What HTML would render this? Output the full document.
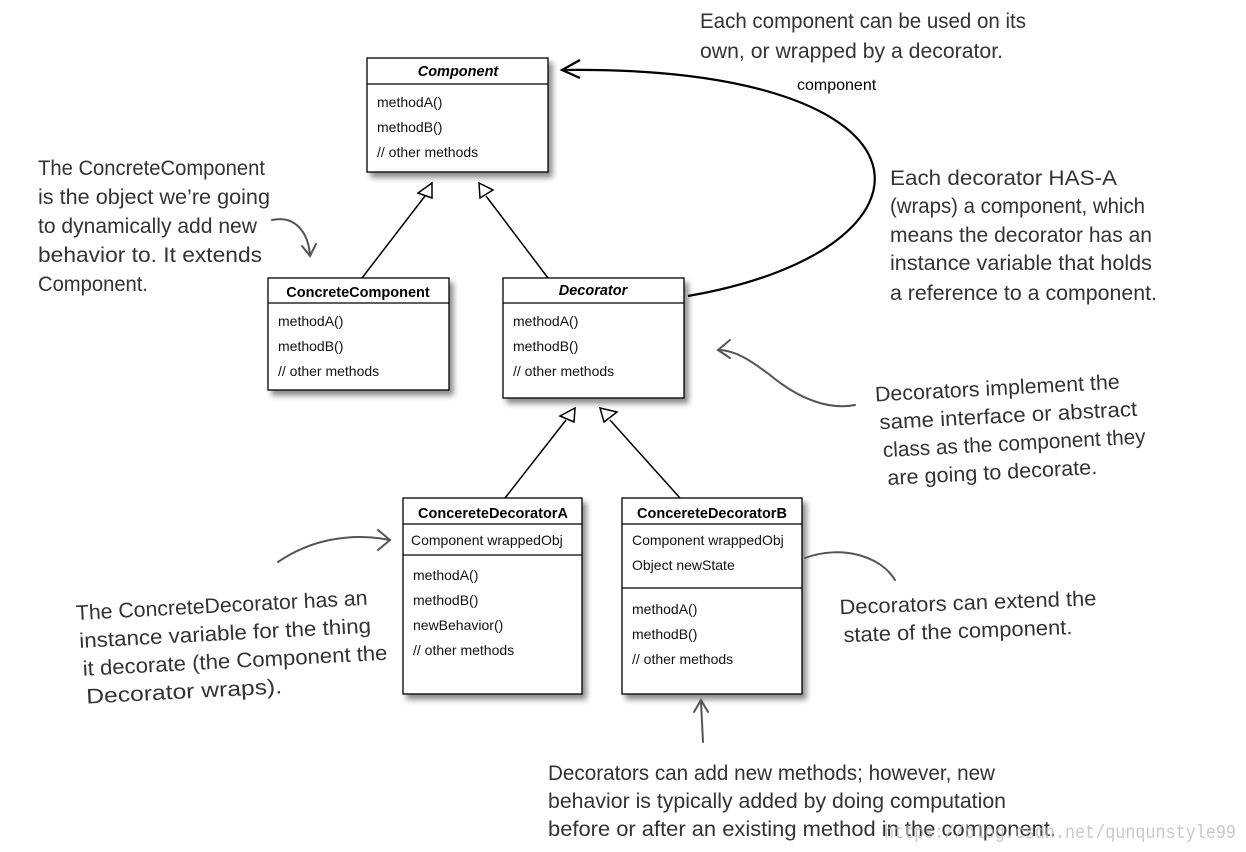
<!DOCTYPE html>
<html><head><meta charset="utf-8"><style>
html,body{margin:0;padding:0;background:#fff}
svg{display:block}
.h{font-family:"Liberation Sans Narrow","Liberation Sans",sans-serif;font-size:21px;fill:#333}
.b{font-family:"Liberation Sans",sans-serif;font-size:14px;fill:#111}
.t{font-family:"Liberation Sans",sans-serif;font-size:14.5px;font-weight:bold;fill:#000}
.box{fill:#fff;stroke:#000;stroke-width:1.3}
</style></head><body>
<svg width="1246" height="852" viewBox="0 0 1246 852" xmlns="http://www.w3.org/2000/svg">
<defs>
<filter id="sh" x="-10%" y="-10%" width="130%" height="130%"><feDropShadow dx="4" dy="5" stdDeviation="3" flood-color="#000" flood-opacity="0.45"/></filter>
</defs>
<g filter="url(#sh)">
<rect class="box" x="367" y="58" width="181" height="114"/>
<rect class="box" x="268" y="278" width="181" height="112"/>
<rect class="box" x="503" y="278" width="181" height="120"/>
<rect class="box" x="403" y="498" width="179" height="196"/>
<rect class="box" x="622" y="498" width="180" height="196"/>
</g>
<g stroke="#000" stroke-width="1.2">
<line x1="367" y1="84" x2="548" y2="84"/>
<line x1="268" y1="303" x2="449" y2="303"/>
<line x1="503" y1="303" x2="684" y2="303"/>
<line x1="403" y1="524" x2="582" y2="524"/>
<line x1="403" y1="555" x2="582" y2="555"/>
<line x1="622" y1="524" x2="802" y2="524"/>
<line x1="622" y1="588" x2="802" y2="588"/>
</g>
<text class="t" x="458" y="76" text-anchor="middle" font-style="italic">Component</text>
<text class="b" x="377" y="107">methodA()</text>
<text class="b" x="377" y="132">methodB()</text>
<text class="b" x="377" y="157">// other methods</text>
<text class="t" x="358" y="297" text-anchor="middle">ConcreteComponent</text>
<text class="b" x="278" y="326">methodA()</text>
<text class="b" x="278" y="351">methodB()</text>
<text class="b" x="278" y="376">// other methods</text>
<text class="t" x="593" y="295" text-anchor="middle" font-style="italic">Decorator</text>
<text class="b" x="513" y="326">methodA()</text>
<text class="b" x="513" y="351">methodB()</text>
<text class="b" x="513" y="376">// other methods</text>
<text class="t" x="493" y="518" text-anchor="middle">ConcereteDecoratorA</text>
<text class="b" x="411" y="545">Component wrappedObj</text>
<text class="b" x="413" y="580">methodA()</text>
<text class="b" x="413" y="605">methodB()</text>
<text class="b" x="413" y="630">newBehavior()</text>
<text class="b" x="413" y="655">// other methods</text>
<text class="t" x="712" y="518" text-anchor="middle">ConcereteDecoratorB</text>
<text class="b" x="632" y="545">Component wrappedObj</text>
<text class="b" x="632" y="570">Object newState</text>
<text class="b" x="632" y="614">methodA()</text>
<text class="b" x="632" y="639">methodB()</text>
<text class="b" x="632" y="664">// other methods</text>
<g stroke="#000" stroke-width="1.5" fill="#fff">
<line x1="362" y1="278" x2="425" y2="196"/>
<polygon points="432,183 418,193 432,198"/>
<line x1="548" y1="278" x2="486" y2="196"/>
<polygon points="479,183 493,190 480,198"/>
<line x1="505" y1="498" x2="566" y2="420"/>
<polygon points="575,408 560,416 574,422"/>
<line x1="680" y1="498" x2="610" y2="420"/>
<polygon points="600,408 617,412 604,422"/>
</g>
<path d="M688,296 C 955,250 955,65 562,70" fill="none" stroke="#000" stroke-width="2.2"/>
<path d="M580,60 L562,70 L580,78" fill="none" stroke="#000" stroke-width="2.2"/>
<text x="797" y="90" font-family="Liberation Sans,sans-serif" font-size="16" fill="#000">component</text>
<g fill="none" stroke="#555" stroke-width="2" stroke-linecap="round">
<path d="M272,220 C295,215 308,232 310,255"/><path d="M302,246 L310,256 L316,244"/>
<path d="M855,405 C830,410 800,400 770,375 C750,360 735,350 718,350"/><path d="M730,340 L718,350 L730,358"/>
<path d="M278,562 C310,540 350,532 390,540"/><path d="M378,530 L390,540 L378,550"/>
<path d="M805,558 C840,545 880,555 895,580"/>
<path d="M703,742 L701,702"/><path d="M694,712 L701,700 L708,712"/>
</g>
<g class="h">
<text x="700" y="28" textLength="326" lengthAdjust="spacingAndGlyphs">Each component can be used on its</text>
<text x="700" y="58" textLength="303" lengthAdjust="spacingAndGlyphs">own, or wrapped by a decorator.</text>
<text x="38" y="175" textLength="227" lengthAdjust="spacingAndGlyphs">The ConcreteComponent</text>
<text x="38" y="204" textLength="232" lengthAdjust="spacingAndGlyphs">is the object we’re going</text>
<text x="38" y="233" textLength="219" lengthAdjust="spacingAndGlyphs">to dynamically add new</text>
<text x="38" y="262" textLength="224" lengthAdjust="spacingAndGlyphs">behavior to. It extends</text>
<text x="38" y="291" textLength="110" lengthAdjust="spacingAndGlyphs">Component.</text>
<text x="890" y="185" textLength="227" lengthAdjust="spacingAndGlyphs">Each decorator HAS-A</text>
<text x="890" y="213" textLength="255" lengthAdjust="spacingAndGlyphs">(wraps) a component, which</text>
<text x="890" y="242" textLength="262" lengthAdjust="spacingAndGlyphs">means the decorator has an</text>
<text x="890" y="270" textLength="262" lengthAdjust="spacingAndGlyphs">instance variable that holds</text>
<text x="890" y="300" textLength="267" lengthAdjust="spacingAndGlyphs">a reference to a component.</text>
<g transform="rotate(-3 1000 430)">
<text x="877" y="395" textLength="245" lengthAdjust="spacingAndGlyphs">Decorators implement the</text>
<text x="880" y="423" textLength="258" lengthAdjust="spacingAndGlyphs">same interface or abstract</text>
<text x="882" y="451" textLength="263" lengthAdjust="spacingAndGlyphs">class as the component they</text>
<text x="885" y="479" textLength="210" lengthAdjust="spacingAndGlyphs">are going to decorate.</text>
</g>
<g transform="rotate(-3 230 650)">
<text x="78" y="612" textLength="292" lengthAdjust="spacingAndGlyphs">The ConcreteDecorator has an</text>
<text x="80" y="640" textLength="292" lengthAdjust="spacingAndGlyphs">instance variable for the thing</text>
<text x="82" y="668" textLength="305" lengthAdjust="spacingAndGlyphs">it decorate (the Component the</text>
<text x="84" y="696" textLength="196" lengthAdjust="spacingAndGlyphs">Decorator wraps).</text>
</g>
<g transform="rotate(-2 960 620)">
<text x="840" y="610" textLength="257" lengthAdjust="spacingAndGlyphs">Decorators can extend the</text>
<text x="843" y="638" textLength="229" lengthAdjust="spacingAndGlyphs">state of the component.</text>
</g>
<text x="548" y="780" textLength="447" lengthAdjust="spacingAndGlyphs">Decorators can add new methods; however, new</text>
<text x="548" y="808" textLength="458" lengthAdjust="spacingAndGlyphs">behavior is typically added by doing computation</text>
<text x="548" y="836" textLength="508" lengthAdjust="spacingAndGlyphs">before or after an existing method in the component.</text>
</g>
<text x="884" y="838" textLength="352" lengthAdjust="spacingAndGlyphs" font-family="Liberation Mono,monospace" font-size="19" fill="#bbb" fill-opacity="0.8">https://blog.csdn.net/qunqunstyle99</text>
</svg>
</body></html>
